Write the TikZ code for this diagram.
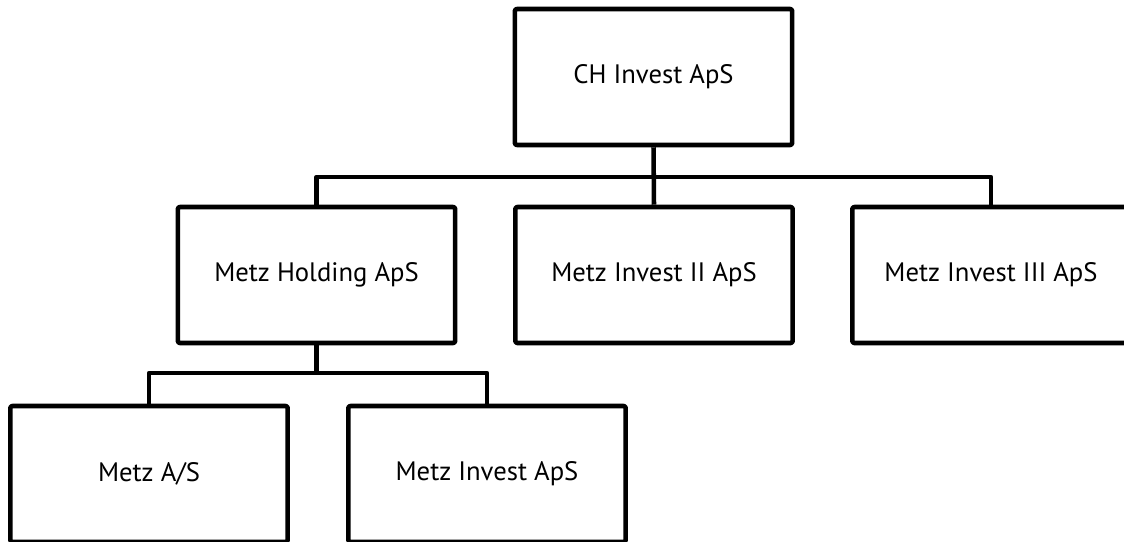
\documentclass[tikz,border=0pt]{standalone}
\usepackage{fontspec}
\setmainfont{PT Sans}
\usetikzlibrary{positioning}

\begin{document}
\begin{tikzpicture}[x=0.75pt,y=-0.75pt,line width=3.4pt,line join=round,
    company/.style={draw,rectangle,rounded corners=1.5pt,minimum width=208pt,
                    minimum height=102pt,font=\fontsize{20}{24}\selectfont}]
  \useasboundingbox (0,0) rectangle (1124,542);
  % owner
  \node[company](ch) at (653.5,77){CH Invest ApS};
  % subsidiaries
  \node[company](holding) at (316.5,275){Metz Holding ApS};
  \node[company](inv2) at (654,275){Metz Invest II ApS};
  \node[company](inv3) at (991,275){Metz Invest III ApS};
  \node[company](metzas) at (149,474){Metz A/S};
  \node[company](metzinv) at (487,474){Metz Invest ApS};
  % bus lines
  \coordinate (topbus) at (653.5,177);
  \coordinate (lowbus) at (316.5,373);
  \draw (ch.south) -- (inv2.north);
  \draw (holding.north) |- (topbus) -| (inv3.north);
  \draw (holding.south) -- (lowbus);
  \draw (metzas.north) |- (lowbus) -| (metzinv.north);
\end{tikzpicture}
\end{document}
